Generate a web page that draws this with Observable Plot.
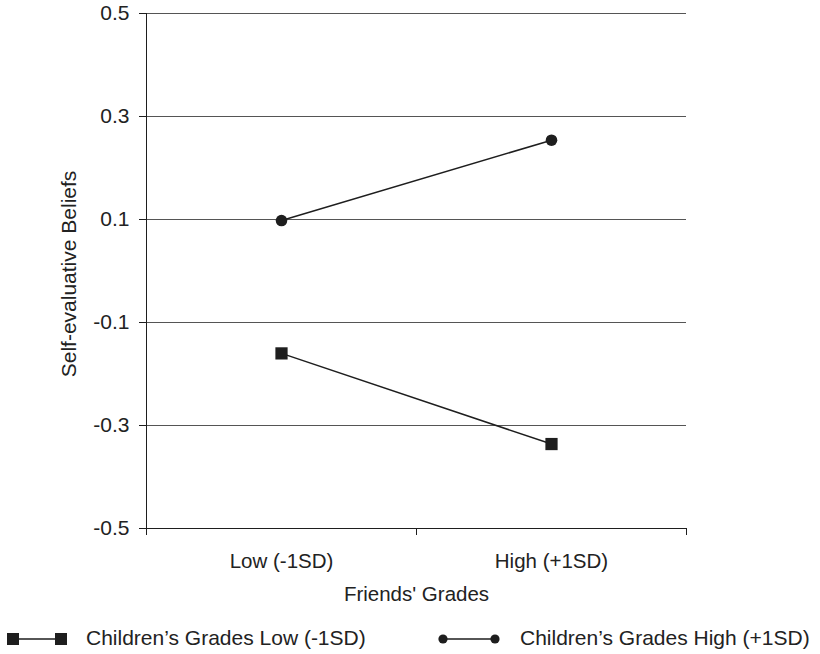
<!DOCTYPE html>
<html>
<head>
<meta charset="utf-8">
<script src="https://cdn.jsdelivr.net/npm/d3@7"></script>
<script src="https://cdn.jsdelivr.net/npm/@observablehq/plot@0.6"></script>
<style>
  html, body { margin: 0; padding: 0; background: #fff; }
  #chart { width: 820px; }
  #legend { position: relative; width: 820px; height: 39px; font-family: "Liberation Sans", Arial, sans-serif; font-size: 21px; color: #222; }
  #legend .sw { position: absolute; top: 14px; }
  #legend .lab { position: absolute; top: 13px; line-height: 20px; white-space: nowrap; }
</style>
</head>
<body>
<div id="chart"></div>
<div id="legend"></div>
<script>
// ---- data ----
const categories = ["Low (-1SD)", "High (+1SD)"];
const seriesNames = ["Children\u2019s Grades Low (-1SD)", "Children\u2019s Grades High (+1SD)"];
const lowChildValues = [-0.160, -0.336];
const highChildValues = [0.098, 0.254];
const yTicks = [-0.5, -0.3, -0.1, 0.1, 0.3, 0.5];
const gridValues = [-0.3, -0.1, 0.1, 0.3, 0.5];
const xBoundaries = [0, 1, 2];
const xTitle = "Friends' Grades";
const yTitle = "Self-evaluative Beliefs";

const rows = [];
categories.forEach((c, i) => {
  rows.push({series: seriesNames[0], pos: i + 0.5, cat: c, value: lowChildValues[i]});
  rows.push({series: seriesNames[1], pos: i + 0.5, cat: c, value: highChildValues[i]});
});
const lowRows = rows.filter(d => d.series === seriesNames[0]);
const highRows = rows.filter(d => d.series === seriesNames[1]);

const ink = "#1e1e1e";
const chart = Plot.plot({
  width: 820,
  height: 615,
  marginLeft: 146,
  marginRight: 134,
  marginTop: 13,
  marginBottom: 87,
  style: {fontFamily: "'Liberation Sans', Arial, sans-serif", fontSize: "21px", color: "#222", background: "#fff"},
  x: {type: "linear", domain: [0, 2]},
  y: {domain: [-0.5, 0.5]},
  marks: [
    Plot.ruleY(gridValues, {stroke: "#555", strokeWidth: 1}),
    Plot.ruleY([-0.5], {stroke: ink, strokeWidth: 1}),
    Plot.ruleX([0], {stroke: ink, strokeWidth: 1}),
    Plot.axisY({ticks: yTicks, tickFormat: d => d.toFixed(1), tickSize: 7, tickPadding: 10, stroke: ink, label: null, fontSize: 21}),
    Plot.axisX({ticks: xBoundaries, tickFormat: () => "", tickSize: 7, stroke: ink, label: null}),
    Plot.axisX({ticks: categories.map((c, i) => i + 0.5), tickFormat: d => categories[Math.floor(d)], tickSize: 0, tickPadding: 25, label: null, fontSize: 20.5}),
    Plot.text([xTitle], {frameAnchor: "bottom", textAnchor: "middle", dy: 58, lineAnchor: "top", fontSize: 20.5, fill: "#222"}),
    Plot.text([yTitle], {frameAnchor: "left", textAnchor: "middle", lineAnchor: "middle", rotate: -90, dx: -77, dy: 3, fontSize: 21, fill: "#222"}),
    Plot.line(rows, {x: "pos", y: "value", z: "series", stroke: ink, strokeWidth: 1.5}),
    Plot.dot(highRows, {x: "pos", y: "value", r: 5.8, fill: ink, stroke: "none", symbol: "circle"}),
    Plot.dot(lowRows, {x: "pos", y: "value", r: 6.9, fill: ink, stroke: "none", symbol: "square"})
  ]
});
document.getElementById("chart").appendChild(chart);

// ---- legend ----
const legend = document.getElementById("legend");
legend.innerHTML = `
  <svg class="sw" style="left:0px" width="75" height="20">
    <line x1="13" y1="10" x2="61" y2="10" stroke="${ink}" stroke-width="1.5"/>
    <rect x="7" y="4" width="12" height="12" fill="${ink}"/>
    <rect x="55" y="4" width="12" height="12" fill="${ink}"/>
  </svg>
  <span class="lab" style="left:86px">${seriesNames[0]}</span>
  <svg class="sw" style="left:435px" width="70" height="20">
    <line x1="8" y1="10" x2="60" y2="10" stroke="${ink}" stroke-width="1.5"/>
    <circle cx="8" cy="10" r="4.6" fill="${ink}"/>
    <circle cx="60" cy="10" r="4.6" fill="${ink}"/>
  </svg>
  <span class="lab" style="left:520px">${seriesNames[1]}</span>
`;
</script>
</body>
</html>
